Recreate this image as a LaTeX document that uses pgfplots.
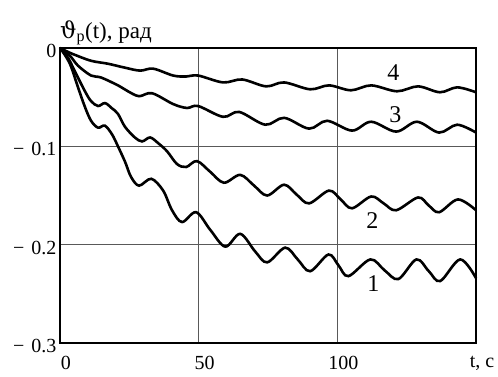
\documentclass[border=0pt]{standalone}
\usepackage{pgfplots}
\pgfplotsset{compat=1.18}
\usepackage{fontspec}
\setmainfont{Liberation Serif}
\newfontfamily\dvs{DejaVu Serif}
\begin{document}
\begin{tikzpicture}
\useasboundingbox (-60pt,-33pt) rectangle (438pt,343pt);
\begin{axis}[
 at={(0,0)}, anchor=south west,
 scale only axis, width=416pt, height=295pt,
 xmin=0, xmax=150, ymin=-0.3, ymax=0,
 xtick={0,50,100,150}, xticklabels={0,50,100,{t, c}},
 ytick={-0.3,-0.2,-0.1,0}, yticklabels={{−\hspace{0.35em}0.3},{−\hspace{0.35em}0.2},{−\hspace{0.35em}0.1},0},
 grid=major, major grid style={black!65, line width=0.7pt},
 major tick length=0pt,
 axis line style={line width=1.6pt},
 tick label style={font=\fontsize{20}{20}\selectfont},
 xticklabel style={xshift=6pt, yshift=-10pt},
 yticklabel style={yshift=-3pt},
 clip=false,
]
% curve 1
\addplot[black, line width=2.6pt, smooth, tension=0.55] coordinates {
(0,0) (2.2,-0.009) (4.0,-0.019) (6.5,-0.040) (9.0,-0.060) (11.2,-0.074) (13.7,-0.081) (16.2,-0.079) (18.8,-0.088) (20.9,-0.100) (23.5,-0.116) (25.6,-0.131) (28.5,-0.140) (32.9,-0.133) (37.2,-0.145) (40.4,-0.165) (44.0,-0.177) (49.1,-0.167) (54.2,-0.185) (59.6,-0.202) (65.0,-0.189) (70.4,-0.207) (74.7,-0.218) (81.2,-0.203) (85.7,-0.215) (90.2,-0.227) (96.8,-0.210) (100.4,-0.221) (104.0,-0.232) (111.9,-0.215) (117,-0.226) (122.0,-0.235) (128.5,-0.215) (133,-0.227) (137.1,-0.237) (144.3,-0.215) (150,-0.234)
};
% curve 2
\addplot[black, line width=2.6pt, smooth, tension=0.55] coordinates {
(0,0) (2.9,-0.010) (5.4,-0.024) (9.0,-0.044) (11.2,-0.054) (13.7,-0.059) (16.2,-0.056) (18.6,-0.061) (20.9,-0.067) (23.4,-0.080) (27.0,-0.091) (29.6,-0.095) (32.5,-0.091) (35.5,-0.097) (38.6,-0.105) (42.2,-0.118) (45.5,-0.121) (49.4,-0.115) (54.2,-0.126) (59.1,-0.137) (65.0,-0.129) (70,-0.140) (74.7,-0.150) (80.8,-0.139) (85.3,-0.149) (89.8,-0.158) (97.0,-0.145) (101.2,-0.154) (105.3,-0.163) (112.2,-0.151) (116.7,-0.158) (121.2,-0.165) (129.1,-0.152) (132.9,-0.160) (136.7,-0.167) (143.5,-0.154) (150,-0.165)
};
% curve 3
\addplot[black, line width=2.6pt, smooth, tension=0.55] coordinates {
(0,0) (3.6,-0.008) (6.5,-0.018) (11.2,-0.028) (14.8,-0.030) (20.9,-0.038) (24.5,-0.044) (28.5,-0.049) (33.2,-0.046) (40.8,-0.057) (45.8,-0.061) (49.8,-0.059) (58.8,-0.070) (64.6,-0.065) (74.0,-0.078) (80.8,-0.071) (89.8,-0.082) (96.3,-0.074) (105.3,-0.084) (112.2,-0.075) (121.2,-0.085) (128.7,-0.075) (136.7,-0.086) (143.2,-0.078) (150,-0.086)
};
% curve 4
\addplot[black, line width=2.6pt, smooth, tension=0.55] coordinates {
(0,0) (2.9,-0.004) (5.4,-0.007) (11.2,-0.013) (17.3,-0.016) (23.4,-0.020) (28.9,-0.023) (33.6,-0.021) (40.8,-0.028) (45.5,-0.029) (49.8,-0.028) (58.8,-0.035) (65.7,-0.032) (74.3,-0.039) (80.8,-0.035) (90.2,-0.042) (97.0,-0.038) (104.9,-0.043) (112.2,-0.038) (121.5,-0.044) (129.1,-0.039) (137.0,-0.045) (143.2,-0.040) (150,-0.045)
};
\node[font=\fontsize{24}{24}\selectfont] at (axis cs:120.2,-0.025) {4};
\node[font=\fontsize{24}{24}\selectfont] at (axis cs:120.9,-0.068) {3};
\node[font=\fontsize{24}{24}\selectfont] at (axis cs:112.6,-0.175) {2};
\node[font=\fontsize{24}{24}\selectfont] at (axis cs:113,-0.240) {1};
\node[anchor=base west, font=\fontsize{23}{23}\selectfont, inner sep=0pt] at (rel axis cs:0,1) [yshift=10pt] {{\dvs ϑ}\textsubscript{р}(t), рад};
\end{axis}
\end{tikzpicture}
\end{document}
